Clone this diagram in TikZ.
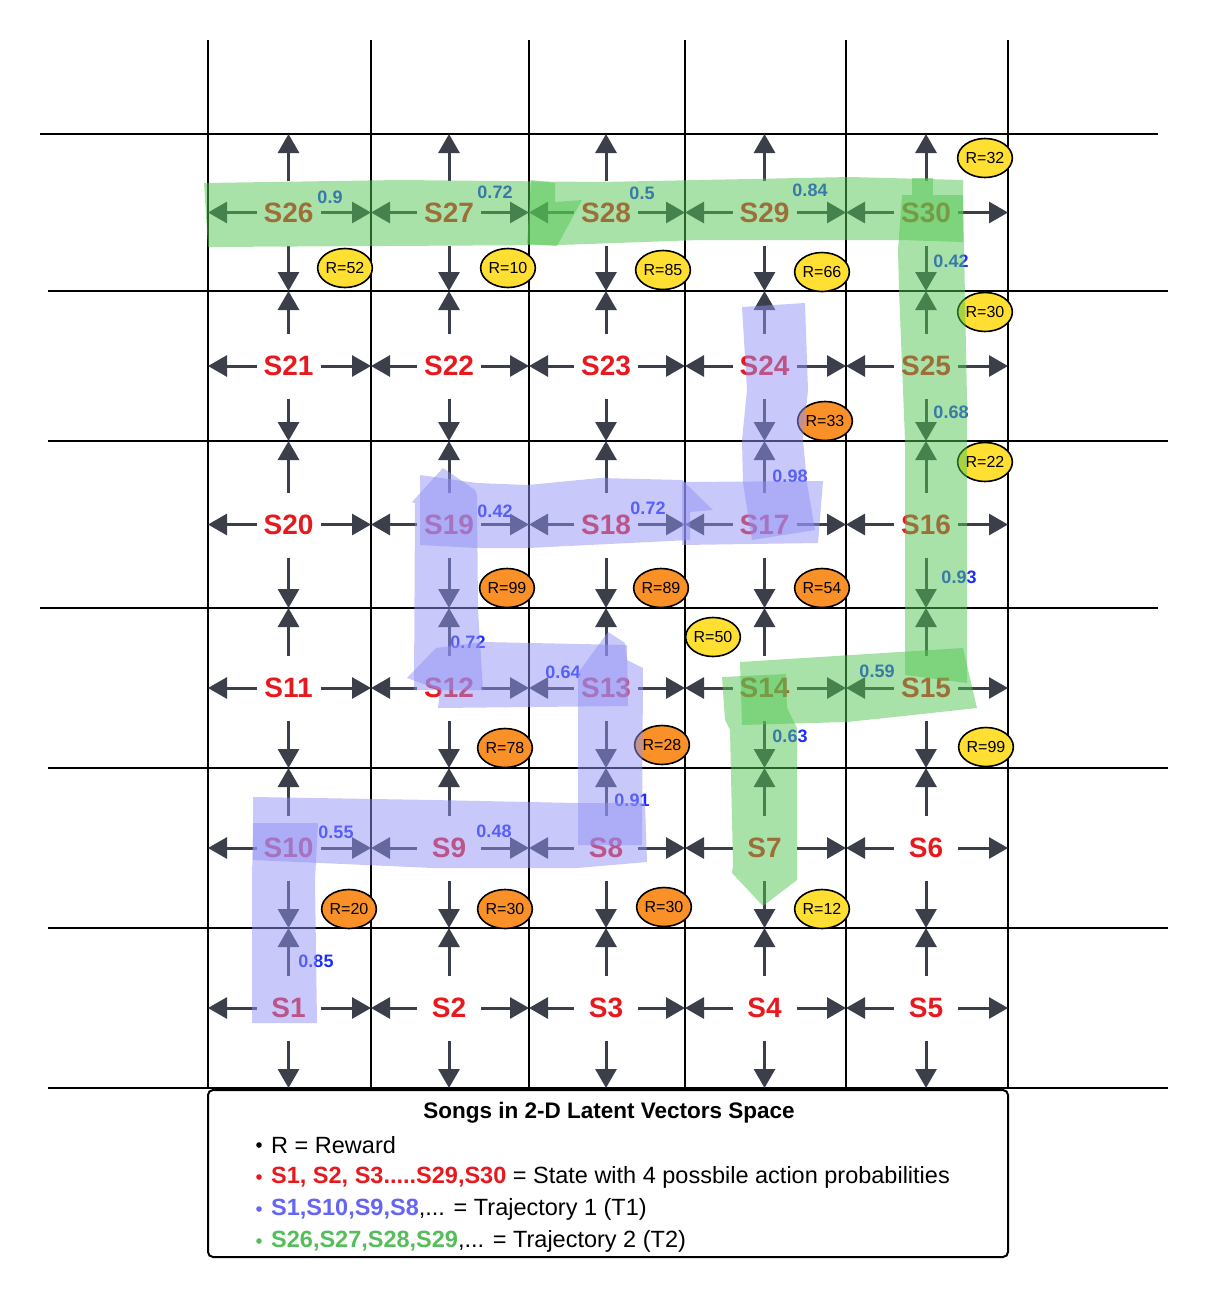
\documentclass[tikz,border=0pt]{standalone}
\usepackage{fontspec}
\setmainfont{Liberation Sans}
\usetikzlibrary{arrows.meta,shapes.geometric,calc}
\definecolor{sred}{RGB}{230,25,30}
\definecolor{arr}{RGB}{58,63,74}
\definecolor{pblue}{RGB}{30,45,255}
\definecolor{yel}{RGB}{255,224,50}
\definecolor{org}{RGB}{250,145,40}
\definecolor{tgreen}{RGB}{83,198,83}
\definecolor{tpurp}{RGB}{145,145,245}
\definecolor{lpurp}{RGB}{100,100,245}
\definecolor{lgreen}{RGB}{85,190,90}
\tikzset{
  gridline/.style={line width=2pt,draw=black},
  act/.style={line width=3pt,draw=arr,-{Triangle[length=19pt,width=21pt,fill=arr]}},
  state/.style={text=sred,font=\fontsize{28}{30}\selectfont\bfseries,inner sep=0pt},
  prob/.style={text=pblue,font=\fontsize{18}{20}\selectfont\bfseries,inner sep=0pt},
  rew/.style={shape=ellipse,draw=black,line width=1.6pt,fill=#1,minimum width=44pt,minimum height=39pt,inner sep=0pt,font=\fontsize{16}{17}\selectfont},
  ttwo/.style={fill=tgreen,fill opacity=0.5},
  tone/.style={fill=tpurp,fill opacity=0.5},
  legline/.style={anchor=west,inner sep=0pt,font=\fontsize{23.5}{26}\selectfont},
}
\begin{document}
\begin{tikzpicture}[x=1pt,y=-1pt]
\useasboundingbox (0,0) rectangle (1208,1299);
% grid
\foreach \x in {208,371,529,685,846,1008}{\draw[gridline] (\x,40) -- (\x,1088);}
\draw[gridline] (40,134) -- (1158,134);
\draw[gridline] (48,291) -- (1168,291);
\draw[gridline] (48,441) -- (1168,441);
\draw[gridline] (40,608) -- (1158,608);
\draw[gridline] (48,768) -- (1168,768);
\draw[gridline] (48,928) -- (1168,928);
\draw[gridline] (48,1088) -- (1168,1088);
% states and action arrows
\foreach \n/\c/\r in {S26/1/1,S27/2/1,S28/3/1,S29/4/1,S30/5/1,
 S21/1/2,S22/2/2,S23/3/2,S24/4/2,S25/5/2,
 S20/1/3,S19/2/3,S18/3/3,S17/4/3,S16/5/3,
 S11/1/4,S12/2/4,S13/3/4,S14/4/4,S15/5/4,
 S10/1/5,S9/2/5,S8/3/5,S7/4/5,S6/5/5,
 S1/1/6,S2/2/6,S3/3/6,S4/4/6,S5/5/6}{
  \pgfmathsetmacro\L{{208,371,529,685,846,1008}[\c-1]}
  \pgfmathsetmacro\R{{208,371,529,685,846,1008}[\c]}
  \pgfmathsetmacro\T{{134,291,441,608,768,928,1088}[\r-1]}
  \pgfmathsetmacro\B{{134,291,441,608,768,928,1088}[\r]}
  \pgfmathsetmacro\cx{(\L+\R)/2}
  \pgfmathsetmacro\cy{(\T+\B)/2}
  \node[state] (\n) at (\cx-1,\cy) {\n};
  \draw[act] ($(\n.center)+(-32,0)$) -- (\L,\cy);
  \draw[act] ($(\n.center)+(32,0)$) -- (\R,\cy);
  \draw[act] ($(\n.center)+(0,-32)$) -- (\cx-1,\T);
  \draw[act] ($(\n.center)+(0,33)$) -- (\cx-1,\B);
}
% probabilities
\node[prob] (p1) at (330,197) {0.9};
\node[prob] (p2) at (495,192) {0.72};
\node[prob] (p3) at (642,193) {0.5};
\node[prob] (p4) at (810,190) {0.84};
\node[prob] (p5) at (951,261) {0.42};
\node[prob] (p6) at (951,412) {0.68};
\node[prob] (p7) at (959,577) {0.93};
\node[prob] (p8) at (877,671) {0.59};
\node[prob] (p9) at (790,736) {0.63};
\node[prob] (p10) at (790,476) {0.98};
\node[prob] (p11) at (648,508) {0.72};
\node[prob] (p12) at (495,511) {0.42};
\node[prob] (p13) at (468,642) {0.72};
\node[prob] (p14) at (563,672) {0.64};
\node[prob] (p15) at (632,800) {0.91};
\node[prob] (p16) at (494,831) {0.48};
\node[prob] (p17) at (336,832) {0.55};
\node[prob] (p18) at (316,961) {0.85};
% rewards
\node[rew=yel] (r1) at (345,268) {R=52};
\node[rew=yel] (r2) at (508,268) {R=10};
\node[rew=yel] (r3) at (663,270) {R=85};
\node[rew=yel] (r4) at (822,272) {R=66};
\node[rew=yel] (r5) at (985,158) {R=32};
\node[rew=yel] (r6) at (985,312) {R=30};
\node[rew=org] (r7) at (825,421) {R=33};
\node[rew=yel] (r8) at (985,462) {R=22};
\node[rew=org] (r9) at (507,588) {R=99};
\node[rew=org] (r10) at (661,588) {R=89};
\node[rew=org] (r11) at (822,588) {R=54};
\node[rew=yel] (r12) at (713,637) {R=50};
\node[rew=org] (r13) at (505,748) {R=78};
\node[rew=org] (r14) at (662,745) {R=28};
\node[rew=yel] (r15) at (986,747) {R=99};
\node[rew=org] (r16) at (349,909) {R=20};
\node[rew=org] (r17) at (505,909) {R=30};
\node[rew=org] (r18) at (664,907) {R=30};
\node[rew=yel] (r19) at (822,909) {R=12};
% trajectory 2 (green)
\fill[ttwo] (204,183) -- (400,180) -- (600,182) -- (850,177) -- (963,180) -- (963,242) -- (900,240) -- (700,240) -- (560,245) -- (208,247) -- cycle;
\fill[ttwo] (531,180) -- (555,183) -- (555,202) -- (582,200) -- (557,246) -- (527,244) -- cycle;
\fill[ttwo] (912,178) -- (933,178) -- (933,195) -- (912,195) -- cycle;
\fill[ttwo] (902,195) -- (963,195) -- (967,400) -- (967,683) -- (905,675) -- (905,440) -- (899,290) -- (898,250) -- cycle;
\fill[ttwo] (740,662) -- (963,648) -- (977,708) -- (913,715) -- (847,722) -- (742,725) -- cycle;
\fill[ttwo] (722,677) -- (786,674) -- (787,708) -- (797,728) -- (797,880) -- (763,906) -- (732,873) -- (733,865) -- (730,730) -- (725,720) -- cycle;
% trajectory 1 (purple)
\fill[tone] (252,1023) -- (252,880) -- (253,823) -- (318,823) -- (315,880) -- (317,1023) -- cycle;
\fill[tone] (253,797) -- (433,800) -- (577,803) -- (645,803) -- (647,862) -- (577,868) -- (433,868) -- (253,860) -- cycle;
\fill[tone] (578,845) -- (578,673) -- (608,632) -- (625,643) -- (627,660) -- (643,668) -- (642,845) -- cycle;
\fill[tone] (407,678) -- (436,648) -- (483,642) -- (627,645) -- (628,706) -- (438,708) -- (440,690) -- cycle;
\fill[tone] (414,690) -- (415,503) -- (412,502) -- (443,468) -- (475,490) -- (477,495) -- (478,610) -- (483,690) -- cycle;
\fill[tone] (420,475) -- (477,483) -- (528,485) -- (600,478) -- (682,480) -- (713,510) -- (690,512) -- (690,540) -- (528,548) -- (477,548) -- (420,545) -- cycle;
\fill[tone] (682,482) -- (823,481) -- (818,543) -- (682,545) -- cycle;
\fill[tone] (742,307) -- (805,303) -- (808,390) -- (803,440) -- (807,483) -- (815,530) -- (752,540) -- (743,483) -- (742,440) -- (747,390) -- cycle;
% legend
\draw[line width=2pt,rounded corners=5pt] (208,1090) rectangle (1008,1257);
\node[inner sep=0pt,font=\fontsize{22.5}{24}\selectfont\bfseries] (title) at (609,1113) {Songs in 2-D Latent Vectors Space};
\fill[black] (259,1145) circle (2.8);
\node[legline] (l1) at (271,1145) {R = Reward};
\fill[sred] (259,1177) circle (2.8);
\node[legline] (l2) at (271,1177) {\textcolor{sred}{\bfseries S1, S2, S3.....S29,S30} = State with 4 possbile action probabilities};
\fill[lpurp] (259,1209) circle (2.8);
\node[legline] (l3) at (271,1209) {\textcolor{lpurp}{\bfseries S1,S10,S9,S8},... = Trajectory 1 (T1)};
\fill[lgreen] (259,1241) circle (2.8);
\node[legline] (l4) at (271,1241) {\textcolor{lgreen}{\bfseries S26,S27,S28,S29},... = Trajectory 2 (T2)};
\end{tikzpicture}
\end{document}
